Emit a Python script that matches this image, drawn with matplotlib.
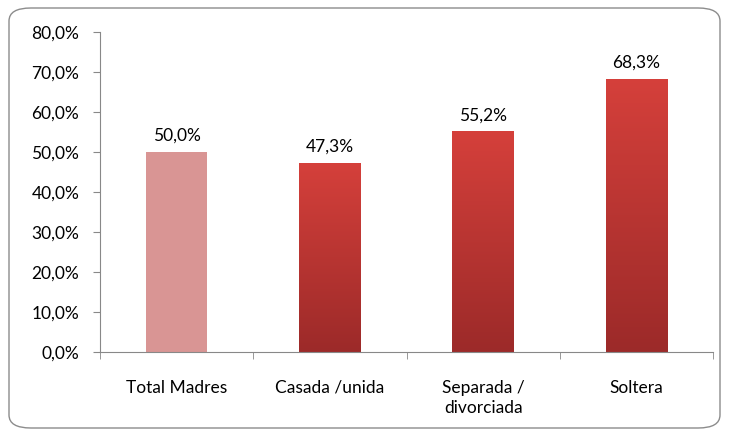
import matplotlib

matplotlib.use("Agg")
import matplotlib.pyplot as plt
import numpy as np
from matplotlib.colors import LinearSegmentedColormap
from matplotlib.patches import FancyBboxPatch

categories = ["Total Madres", "Casada /unida", "Separada /\ndivorciada", "Soltera"]
values = [50.0, 47.3, 55.2, 68.3]
value_labels = ["50,0%", "47,3%", "55,2%", "68,3%"]
y_ticks = [0, 10, 20, 30, 40, 50, 60, 70, 80]

plt.rcParams["font.family"] = ["Lato", "DejaVu Sans"]

fig = plt.figure(figsize=(7.3, 4.34), dpi=100)
ax = fig.add_axes([100 / 730, 82 / 434, 613 / 730, 320 / 434])

x = np.arange(len(categories))
bars = ax.bar(x, values, width=0.4, color="#D99594", zorder=2)

grad = LinearSegmentedColormap.from_list("g", ["#9C2A29", "#D5403B"])
for i, b in enumerate(bars):
    if i == 0:
        continue
    b.set_facecolor("none")
    x0, w, h = b.get_x(), b.get_width(), b.get_height()
    img = ax.imshow(np.linspace(0, 1, 256).reshape(-1, 1), cmap=grad,
                    origin="lower", aspect="auto",
                    extent=(x0, x0 + w, 0, h), zorder=2)
    img.set_clip_path(b)

fs = 12.5
for xi, v, lab in zip(x, values, value_labels):
    ax.text(xi, v + 2.0, lab, ha="center", va="bottom", fontsize=fs)

ax.set_xlim(-0.5, len(categories) - 0.5)
ax.set_ylim(0, 80)
ax.set_yticks(y_ticks)
ax.set_yticklabels([f"{t:.1f}%".replace(".", ",") for t in y_ticks], fontsize=fs)
ax.set_xticks(x)
ax.set_xticklabels(categories, fontsize=fs, va="top", linespacing=1.3)
ax.set_xticks(np.arange(-0.5, len(categories)), minor=True)
ax.tick_params(axis="x", which="major", length=0, pad=20)
ax.tick_params(axis="x", which="minor", length=5, color="#888888", direction="out")
ax.tick_params(axis="y", length=5, color="#888888", pad=10)

for s in ["top", "right"]:
    ax.spines[s].set_visible(False)
for s in ["left", "bottom"]:
    ax.spines[s].set_color("#888888")

border = FancyBboxPatch((9 / 730, 6 / 434), 711 / 730, 420 / 434,
                        boxstyle="round,pad=0,rounding_size=0.03",
                        transform=fig.transFigure, facecolor="none",
                        edgecolor="#8C8C8C", linewidth=1.0)
fig.patches.append(border)

fig.savefig("out.png", dpi=100)
